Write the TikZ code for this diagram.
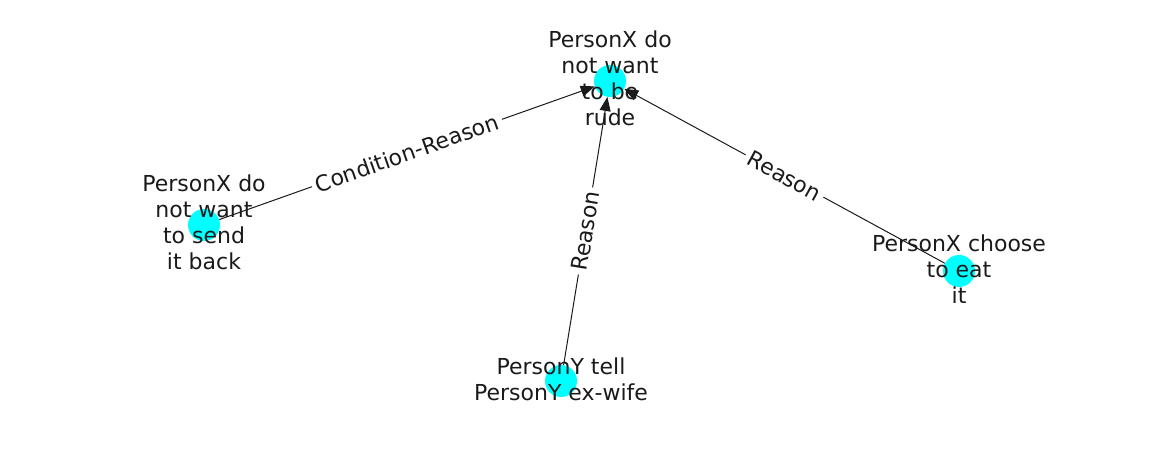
\documentclass[tikz,border=0pt]{standalone}
\usepackage{fontspec}
\setmainfont{DejaVu Sans}
\usetikzlibrary{arrows.meta}
\definecolor{txt}{RGB}{26,26,26}
\definecolor{nodecyan}{RGB}{0,255,255}
\tikzset{
  dot/.style={circle, fill=nodecyan, draw=none, minimum size=32pt, inner sep=0pt},
  lbl/.style={align=center, text=txt, font=\fontsize{22}{26}\selectfont, inner sep=0pt},
  edge/.style={draw=txt, line width=1pt, -{Triangle[length=14pt,width=11pt]}},
  elbl/.style={sloped, fill=white, text=txt, font=\fontsize{22}{26}\selectfont, inner sep=4pt}
}
\begin{document}
\begin{tikzpicture}[x=1pt,y=-1pt]
\useasboundingbox (0,0) rectangle (1162,462);
\node[dot] (t) at (610,81) {};
\node[dot] (l) at (204,225) {};
\node[dot] (b) at (561,381) {};
\node[dot] (r) at (959,271) {};
\draw[edge] (l) -- node[elbl] {Condition-Reason} (t);
\draw[edge] (b) -- node[elbl] {Reason} (t);
\draw[edge] (r) -- node[elbl] {Reason} (t);
\node[lbl] (tl) at (610,78) {PersonX do\\not want\\to be\\rude};
\node[lbl] (ll) at (204,222) {PersonX do\\not want\\to send\\it back};
\node[lbl] (bl) at (561,379) {PersonY tell\\PersonY ex-wife};
\node[lbl] (rl) at (959,269) {PersonX choose\\to eat\\it};
\end{tikzpicture}
\end{document}
